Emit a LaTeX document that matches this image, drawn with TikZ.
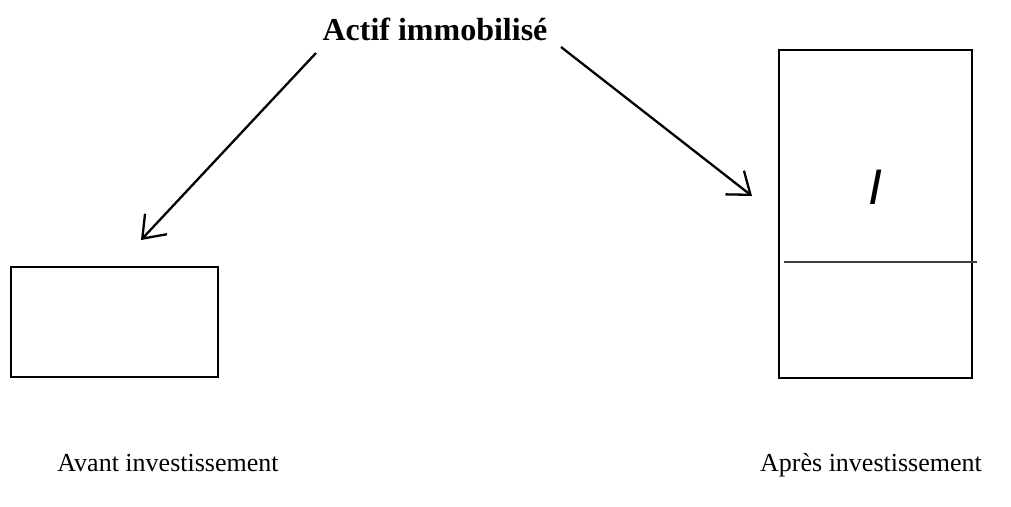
\documentclass[tikz,border=0pt]{standalone}
\usepackage{fontspec}
\setmainfont{Liberation Serif}
\newfontfamily\sansit{Liberation Sans}
\usetikzlibrary{arrows.meta}
\begin{document}
\begin{tikzpicture}[x=1pt,y=-1pt,
  frame/.style={draw,line width=2.6pt},
  link/.style={line width=2.3pt,-{Straight Barb[length=20pt,width=30pt,line width=2.3pt]}},
  caption/.style={anchor=base,inner sep=0pt,font=\fontsize{26}{30}\selectfont}]
\useasboundingbox (0,0) rectangle (1011,506);
% title
\node[anchor=base,inner sep=0pt,font=\fontsize{32}{36}\selectfont\bfseries] (title) at (435,40) {Actif immobilisé};
% balance sheet before
\draw[frame] (11,267) rectangle (218,377);
\coordinate (before) at (141,240);
% balance sheet after
\draw[frame] (779,50) rectangle (972,378);
\draw[line width=1.2pt,black!75] (784,262) -- (977,262);
\node[inner sep=0pt,font=\fontsize{50}{56}\sansit\itshape] (inv) at (875,187) {I};
\coordinate (after) at (752,196);
% arrows from the title
\coordinate (ls) at (316,53);
\coordinate (rs) at (561,47);
\draw[link] (ls) -- (before);
\draw[link] (rs) -- (after);
% captions
\node[caption] (cap1) at (168,471) {Avant investissement};
\node[caption] (cap2) at (871,471) {Après investissement};
\end{tikzpicture}
\end{document}
